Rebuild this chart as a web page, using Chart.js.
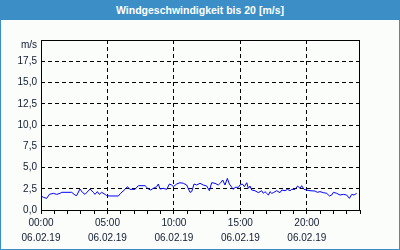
<!DOCTYPE html>
<html>
<head>
<meta charset="utf-8">
<script src="https://cdn.jsdelivr.net/npm/chart.js@4"></script>
<style>
  body { margin: 0; background: #fff; }
  #frame { position: relative; width: 400px; height: 250px; box-sizing: border-box;
           border: 1px solid #3c8fc6; border-top: none; background: #fbfdfb; overflow: hidden; }
  #title { position: absolute; left: 0; top: 0; width: 400px; height: 20px; margin-left: -1px;
           background: #3c8fc6; color: #fff; font: bold 10.5px "Liberation Sans", sans-serif;
           line-height: 20px; text-align: center; }
  #chart { position: absolute; left: -1px; top: 0; }
</style>
</head>
<body>
<div id="frame">
  <canvas id="chart" width="400" height="250"></canvas>
  <div id="title">Windgeschwindigkeit bis 20 [m/s]</div>
</div>
<script>
// Stunden seit 00:00 (06.02.19) und Windgeschwindigkeit in m/s
const hours = [
  0.00, 0.18, 0.43, 0.63, 0.93, 1.18, 1.43, 1.56, 2.31, 2.56, 2.68, 2.93, 3.11, 3.31, 3.69, 3.94,
  4.06, 4.24, 4.39, 4.56, 4.82, 4.94, 5.19, 5.82, 5.99, 6.32, 6.50, 6.70, 7.07, 7.32, 7.83, 8.08,
  8.25, 8.45, 8.70, 8.83, 8.95, 9.20, 9.46, 9.66, 9.83, 9.96, 10.21, 10.46, 10.71, 10.96, 11.21, 11.34,
  11.51, 11.71, 11.96, 12.21, 12.47, 12.67, 12.84, 13.09, 13.34, 13.52, 13.67, 13.84, 14.02, 14.17,
  14.47, 14.60, 14.85, 14.97, 15.15, 15.30, 15.48, 15.60, 15.73, 15.85, 16.10, 16.35, 16.60, 16.73,
  16.85, 16.98, 17.11, 17.23, 17.36, 17.48, 17.73, 17.98, 18.11, 18.36, 18.54, 18.74, 18.86, 19.11,
  19.31, 19.49, 19.61, 19.79, 19.99, 20.24, 20.62, 20.79, 20.99, 21.24, 21.50, 21.70, 21.87, 22.00,
  22.25, 22.50, 22.75, 23.00, 23.20, 23.38, 23.55, 23.75
];
const speeds = [
  1.65, 1.49, 1.37, 1.84, 1.96, 1.84, 1.96, 2.08, 2.08, 1.76, 1.69, 2.47, 2.08, 1.84, 2.47, 2.08,
  1.84, 2.16, 1.84, 2.08, 1.84, 1.69, 1.65, 1.65, 1.96, 2.43, 2.74, 2.43, 2.43, 2.86, 2.86, 2.47,
  2.35, 2.55, 2.74, 3.06, 2.47, 2.55, 2.43, 3.06, 2.94, 2.74, 3.06, 3.21, 3.14, 2.94, 2.08, 2.16,
  3.06, 2.94, 3.14, 2.94, 2.82, 2.27, 3.21, 3.14, 2.94, 3.21, 3.53, 2.94, 3.72, 3.06,
  2.43, 2.67, 2.67, 2.94, 3.06, 2.74, 3.21, 2.55, 2.82, 2.35, 2.27, 2.04, 2.27, 1.96,
  2.16, 1.96, 1.76, 2.16, 1.96, 2.04, 2.27, 2.04, 2.35, 2.27, 2.43, 2.27, 2.43, 2.43,
  2.82, 2.55, 2.86, 2.43, 2.35, 2.27, 2.23, 2.08, 2.16, 2.04, 1.96, 1.65, 1.76, 2.08,
  1.96, 1.76, 1.84, 1.76, 1.37, 1.84, 1.76, 1.96
];
const dateLabel = '06.02.19';
const yUnit = 'm/s';

const txt = '#121a30';
const font = { family: 'Liberation Sans', size: 10, lineHeight: 1.5 };

const frame = {
  id: 'frame',
  afterDraw(chart) {
    const { ctx, chartArea: a } = chart;
    ctx.save();
    ctx.strokeStyle = '#000';
    ctx.lineWidth = 1;
    ctx.strokeRect(Math.round(a.left) + 0.5, Math.round(a.top) + 0.5,
                   Math.round(a.right - a.left) - 1, Math.round(a.bottom - a.top));
    ctx.fillStyle = txt;
    ctx.font = '10px "Liberation Sans"';
    ctx.textAlign = 'right';
    ctx.textBaseline = 'middle';
    ctx.fillText(yUnit, a.left - 4, a.top + 5);
    ctx.restore();
  }
};

new Chart(document.getElementById('chart'), {
  type: 'line',
  data: {
    datasets: [{
      data: hours.map((h, i) => ({ x: h, y: speeds[i] })),
      borderColor: '#0000ff',
      borderWidth: 1,
      pointRadius: 0,
      tension: 0,
      fill: false
    }]
  },
  options: {
    responsive: false,
    animation: false,
    layout: { padding: { left: 0, right: 40, top: 40, bottom: 0 } },
    plugins: { legend: { display: false }, tooltip: { enabled: false } },
    scales: {
      x: {
        type: 'linear', min: 0, max: 24,
        afterFit: s => { s.height = 40; },
        border: { display: false, dash: [4, 3] },
        grid: {
          color: c => (c.tick && c.tick.value % 5 === 0) ? '#000' : 'rgba(0,0,0,0)',
          lineWidth: 1, tickColor: '#000', tickLength: 4, tickBorderDash: []
        },
        ticks: {
          stepSize: 1, autoSkip: false, maxRotation: 0, padding: 2, color: txt, font,
          callback: v => v % 5 === 0 ? [String(v).padStart(2, '0') + ':00', dateLabel] : ''
        }
      },
      y: {
        min: 0, max: 20,
        afterFit: s => { s.width = 41; },
        border: { display: false, dash: [4, 3] },
        grid: { color: '#000', lineWidth: 1, drawTicks: false },
        ticks: {
          stepSize: 2.5, padding: 4, color: txt, font,
          callback: v => v === 20 ? '' : v.toFixed(1).replace('.', ',')
        }
      }
    }
  },
  plugins: [frame]
});
</script>
</body>
</html>
